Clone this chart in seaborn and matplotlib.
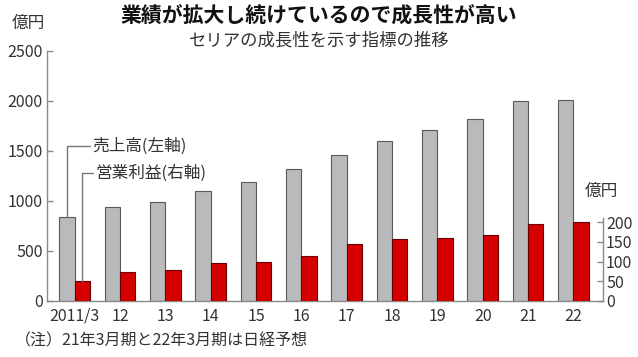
import pandas as pd
import matplotlib
matplotlib.use('Agg')
import matplotlib.pyplot as plt
import seaborn as sns

# データ
periods = ['2011/3', '12', '13', '14', '15', '16', '17', '18', '19', '20', '21', '22']
sales = [840, 940, 985, 1100, 1190, 1320, 1460, 1600, 1710, 1820, 2000, 2010]   # 売上高(左軸, 億円)
profit = [50, 72, 79, 97, 100, 114, 145, 157, 160, 168, 196, 200]              # 営業利益(右軸, 億円)
series_names = ['売上高', '営業利益']

sns.set_theme(style='white')
plt.rcParams['font.family'] = ['Noto Sans CJK JP', 'DejaVu Sans']

txt = '#333333'
axis_col = '#8a8a8a'

# 左軸: 0.1px/億円, 右軸: 0.392px/億円 (軸の高さ250px)
left_top = 2500
right_top = 250 / 0.392
to_right = (250 / left_top) / 0.392

df_sales = pd.DataFrame({'period': periods, 'value': sales, 'series': series_names[0]})
df_profit = pd.DataFrame({'period': periods, 'value': profit, 'series': series_names[1]})

fig = plt.figure(figsize=(6.38, 3.57), dpi=100)
ax = fig.add_axes([47 / 638, 1 - 300.7 / 357, 556.3 / 638, 250 / 357])
ax2 = ax.twinx()

pal = ['#b9babc', '#d40000']
sns.barplot(data=df_sales, x='period', y='value', hue='series', hue_order=series_names,
            palette=pal, saturation=1, dodge=True, width=0.68, ax=ax,
            edgecolor='#5a5a5a', linewidth=0.8, legend=False, order=periods)
sns.barplot(data=df_profit, x='period', y='value', hue='series', hue_order=series_names,
            palette=pal, saturation=1, dodge=True, width=0.68, ax=ax2,
            edgecolor='#6a0000', linewidth=0.8, legend=False, order=periods)

ax.set_xlim(-0.61, 11.66)
ax.set_ylim(0, left_top)
ax2.set_ylim(0, right_top)

ax.set_yticks([0, 500, 1000, 1500, 2000, 2500])
ax2.set_yticks([0, 50, 100, 150, 200])
ax.set_xlabel('')
ax.set_ylabel('')
ax2.set_xlabel('')
ax2.set_ylabel('')

for a in (ax, ax2):
    a.spines['top'].set_visible(False)
    for s in a.spines.values():
        s.set_color(axis_col)
        s.set_linewidth(1)
ax.spines['right'].set_visible(False)
ax2.spines['left'].set_visible(False)
ax2.spines['bottom'].set_visible(False)
ax.spines['left'].set_bounds(0, 2500)
ax2.spines['right'].set_bounds(0, 210)

ax.tick_params(axis='y', direction='in', length=4, width=1, color=axis_col,
               labelsize=11.5, labelcolor=txt, pad=3, left=True)
ax2.tick_params(axis='y', direction='in', length=4, width=1, color=axis_col,
                labelsize=11.5, labelcolor=txt, pad=2, right=True)
ax.tick_params(axis='x', length=0, labelsize=11.5, labelcolor=txt, pad=5)

# 凡例代わりの引き出し線
off = 0.17
y_s = 1545
ax.plot([0 - off, 0 - off, 0.33], [sales[0], y_s, y_s], color='#777777', lw=1)
ax.text(0.38, y_s, '売上高(左軸)', fontsize=12, color=txt, va='center', ha='left')
y_p = 1275 * to_right
ax2.plot([0 + off, 0 + off, 0.40], [profit[0], y_p, y_p], color='#777777', lw=1)
ax2.text(0.45, y_p, '営業利益(右軸)', fontsize=12, color=txt, va='center', ha='left')

# 単位
fig.text(12 / 638, 1 - 23 / 357, '億円', fontsize=12, color=txt, va='center', ha='left')
fig.text(585 / 638, 1 - 191 / 357, '億円', fontsize=12, color=txt, va='center', ha='left')

# タイトル
fig.text(0.5, 1 - 16 / 357, '業績が拡大し続けているので成長性が高い', fontsize=15,
         fontweight='bold', color='#111111', ha='center', va='center')
fig.text(0.5, 1 - 40 / 357, 'セリアの成長性を示す指標の推移', fontsize=12.5,
         color=txt, ha='center', va='center')

# 注
fig.text(15 / 638, 1 - 341 / 357, '（注）21年3月期と22年3月期は日経予想', fontsize=11.5,
         color=txt, ha='left', va='center')

fig.savefig('out.png', dpi=100)
